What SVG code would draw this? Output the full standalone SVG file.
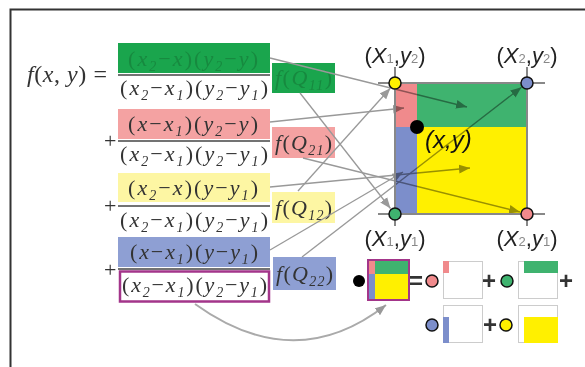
<svg xmlns="http://www.w3.org/2000/svg" width="585" height="367" viewBox="0 0 585 367">
<defs>
<marker id="ah" viewBox="0 0 10 8" refX="10" refY="4" markerWidth="11" markerHeight="9" markerUnits="userSpaceOnUse" orient="auto"><path d="M0,0 L10,4 L0,8 z" fill="#999"/></marker>
<style>
.eq{font-family:"Liberation Serif","Times New Roman",serif;font-size:22px;fill:#333}
.gt{fill:#17893f}
.i{font-style:italic}
.s{font-style:italic;font-size:14px}
.lbl{font-family:"Liberation Sans",Arial,sans-serif;font-size:22px;fill:#222;text-anchor:middle}
.sub{font-size:13px;fill:#888}
.arr{stroke:#999;stroke-width:1.3;fill:none;marker-end:url(#ah)}
.mult{mix-blend-mode:multiply}
.circ{stroke:#111;stroke-width:1.5}
.op{font-family:"Liberation Sans",Arial,sans-serif;font-size:24px;font-weight:bold;fill:#333;text-anchor:middle}
.fl{stroke:#444;stroke-width:1.5}
.grid{stroke:#888;stroke-width:2;fill:none}
.wb{fill:#fff;stroke:#ccc;stroke-width:1}
</style>
</defs>
<rect width="585" height="367" fill="#fff"/>
<path d="M10.5,367 V9.5 H585" fill="none" stroke="#333" stroke-width="2"/>

<g id="equation">
<text class="eq" x="27" y="82" font-size="24" textLength="80" lengthAdjust="spacing" style="font-size:24px"><tspan class="i">f</tspan>(<tspan class="i">x</tspan>, <tspan class="i">y</tspan>) =</text>
<text class="eq" x="104" y="148">+</text>
<text class="eq" x="104" y="213">+</text>
<text class="eq" x="104" y="277">+</text>
</g>

<g id="term1">
<rect x="118" y="43" width="152" height="30" fill="#1aa54d"/>
<text class="eq gt" x="128" y="66" textLength="130" lengthAdjust="spacing">(<tspan class="i">x</tspan><tspan class="s" dy="5">2</tspan><tspan dy="-5">−</tspan><tspan class="i">x</tspan>)(<tspan class="i">y</tspan><tspan class="s" dy="5">2</tspan><tspan dy="-5">−</tspan><tspan class="i">y</tspan>)</text>
<line class="fl" x1="118" y1="75" x2="270" y2="75"/>
<text class="eq" x="120" y="95" textLength="148" lengthAdjust="spacing">(<tspan class="i">x</tspan><tspan class="s" dy="5">2</tspan><tspan dy="-5">−</tspan><tspan class="i">x</tspan><tspan class="s" dy="5">1</tspan><tspan dy="-5">)(</tspan><tspan class="i">y</tspan><tspan class="s" dy="5">2</tspan><tspan dy="-5">−</tspan><tspan class="i">y</tspan><tspan class="s" dy="5">1</tspan><tspan dy="-5">)</tspan></text>
</g>

<g id="term2">
<rect x="118" y="109" width="152" height="30" fill="#f4a2a2"/>
<text class="eq" x="128" y="131" textLength="130" lengthAdjust="spacing">(<tspan class="i">x</tspan>−<tspan class="i">x</tspan><tspan class="s" dy="5">1</tspan><tspan dy="-5">)(</tspan><tspan class="i">y</tspan><tspan class="s" dy="5">2</tspan><tspan dy="-5">−</tspan><tspan class="i">y</tspan>)</text>
<line class="fl" x1="118" y1="141" x2="270" y2="141"/>
<text class="eq" x="120" y="161" textLength="148" lengthAdjust="spacing">(<tspan class="i">x</tspan><tspan class="s" dy="5">2</tspan><tspan dy="-5">−</tspan><tspan class="i">x</tspan><tspan class="s" dy="5">1</tspan><tspan dy="-5">)(</tspan><tspan class="i">y</tspan><tspan class="s" dy="5">2</tspan><tspan dy="-5">−</tspan><tspan class="i">y</tspan><tspan class="s" dy="5">1</tspan><tspan dy="-5">)</tspan></text>
</g>

<g id="term3">
<rect x="118" y="173" width="152" height="29" fill="#fdf6a3"/>
<text class="eq" x="128" y="195" textLength="130" lengthAdjust="spacing">(<tspan class="i">x</tspan><tspan class="s" dy="5">2</tspan><tspan dy="-5">−</tspan><tspan class="i">x</tspan>)(<tspan class="i">y</tspan>−<tspan class="i">y</tspan><tspan class="s" dy="5">1</tspan><tspan dy="-5">)</tspan></text>
<line class="fl" x1="118" y1="206" x2="270" y2="206"/>
<text class="eq" x="120" y="227" textLength="148" lengthAdjust="spacing">(<tspan class="i">x</tspan><tspan class="s" dy="5">2</tspan><tspan dy="-5">−</tspan><tspan class="i">x</tspan><tspan class="s" dy="5">1</tspan><tspan dy="-5">)(</tspan><tspan class="i">y</tspan><tspan class="s" dy="5">2</tspan><tspan dy="-5">−</tspan><tspan class="i">y</tspan><tspan class="s" dy="5">1</tspan><tspan dy="-5">)</tspan></text>
</g>

<g id="term4">
<rect x="118" y="237" width="152" height="30" fill="#8e9fd3"/>
<text class="eq" x="130" y="259" textLength="128" lengthAdjust="spacing">(<tspan class="i">x</tspan>−<tspan class="i">x</tspan><tspan class="s" dy="5">1</tspan><tspan dy="-5">)(</tspan><tspan class="i">y</tspan>−<tspan class="i">y</tspan><tspan class="s" dy="5">1</tspan><tspan dy="-5">)</tspan></text>
<line class="fl" x1="118" y1="269" x2="270" y2="269"/>
<rect x="120" y="271.5" width="149" height="30" fill="none" stroke="#a3358a" stroke-width="2.5"/>
<text class="eq" x="122" y="292" textLength="145" lengthAdjust="spacing">(<tspan class="i">x</tspan><tspan class="s" dy="5">2</tspan><tspan dy="-5">−</tspan><tspan class="i">x</tspan><tspan class="s" dy="5">1</tspan><tspan dy="-5">)(</tspan><tspan class="i">y</tspan><tspan class="s" dy="5">2</tspan><tspan dy="-5">−</tspan><tspan class="i">y</tspan><tspan class="s" dy="5">1</tspan><tspan dy="-5">)</tspan></text>
</g>

<g id="fQ11">
<rect x="272" y="63" width="63" height="30" fill="#1aa54d"/>
<text class="eq gt" x="275" y="85" textLength="57" lengthAdjust="spacing"><tspan class="i">f</tspan>(<tspan class="i">Q</tspan><tspan class="s" dy="5">11</tspan><tspan dy="-5">)</tspan></text>
</g>
<g id="fQ21">
<rect x="272" y="127" width="63" height="31" fill="#f4a2a2"/>
<text class="eq" x="275" y="150" textLength="57" lengthAdjust="spacing"><tspan class="i">f</tspan>(<tspan class="i">Q</tspan><tspan class="s" dy="5">21</tspan><tspan dy="-5">)</tspan></text>
</g>
<g id="fQ12">
<rect x="272" y="192" width="63" height="31" fill="#fdf6a3"/>
<text class="eq" x="275" y="215" textLength="57" lengthAdjust="spacing"><tspan class="i">f</tspan>(<tspan class="i">Q</tspan><tspan class="s" dy="5">12</tspan><tspan dy="-5">)</tspan></text>
</g>
<g id="fQ22">
<rect x="273" y="257" width="63" height="33" fill="#8e9fd3"/>
<text class="eq" x="276" y="281" textLength="57" lengthAdjust="spacing"><tspan class="i">f</tspan>(<tspan class="i">Q</tspan><tspan class="s" dy="5">22</tspan><tspan dy="-5">)</tspan></text>
</g>

<g id="grid">
<line class="grid" x1="378" y1="83" x2="545" y2="83"/>
<line class="grid" x1="378" y1="214" x2="545" y2="214"/>
<line class="grid" x1="395" y1="67" x2="395" y2="226"/>
<line class="grid" x1="527" y1="67" x2="527" y2="226"/>
</g>

<g id="connectors">
<line class="arr" x1="270" y1="58" x2="467" y2="107"/>
<line class="arr" x1="300" y1="93" x2="390.5" y2="208.5"/>
<line class="arr" x1="270" y1="122" x2="404" y2="108"/>
<line class="arr" x1="303" y1="158" x2="520" y2="212"/>
<line class="arr" x1="270" y1="187" x2="470" y2="168"/>
<line class="arr" x1="298" y1="191" x2="390.3" y2="88.2"/>
<line class="arr" x1="270" y1="250" x2="403" y2="172"/>
<line class="arr" x1="302" y1="257" x2="521.5" y2="87.3"/>
<path d="M195,304 Q295,376 386,305" fill="none" stroke="#aaa" stroke-width="2" marker-end="url(#ah)"/>
</g>

<g id="square">
<rect class="mult" x="395" y="83" width="22" height="44" fill="#f08a8c"/>
<rect class="mult" x="417" y="83" width="110" height="44" fill="#3fb36f"/>
<rect class="mult" x="395" y="127" width="22" height="87" fill="#7c8ecb"/>
<rect class="mult" x="417" y="127" width="110" height="87" fill="#fff000"/>
<rect x="395" y="83" width="132" height="131" class="grid"/>
<circle cx="417" cy="127" r="7" fill="#000"/>
<text x="425" y="148" font-family="Liberation Sans, Arial, sans-serif" font-size="24" font-style="italic" fill="#111">(x,y)</text>
</g>

<g id="Q12">
<circle class="circ" cx="395" cy="83" r="6" fill="#fff000"/>
<text class="lbl" x="395" y="63">(<tspan font-style="italic">X</tspan><tspan class="sub">1</tspan>,<tspan font-style="italic">y</tspan><tspan class="sub">2</tspan>)</text>
</g>
<g id="Q22">
<circle class="circ" cx="527" cy="83" r="6" fill="#7c8ecb"/>
<text class="lbl" x="527" y="63">(<tspan font-style="italic">X</tspan><tspan class="sub">2</tspan>,<tspan font-style="italic">y</tspan><tspan class="sub">2</tspan>)</text>
</g>
<g id="Q11">
<circle class="circ" cx="395" cy="214" r="6" fill="#3fb36f"/>
<text class="lbl" x="395" y="246">(<tspan font-style="italic">X</tspan><tspan class="sub">1</tspan>,<tspan font-style="italic">y</tspan><tspan class="sub">1</tspan>)</text>
</g>
<g id="Q21">
<circle class="circ" cx="527" cy="214" r="6" fill="#f08a8c"/>
<text class="lbl" x="527" y="246">(<tspan font-style="italic">X</tspan><tspan class="sub">2</tspan>,<tspan font-style="italic">y</tspan><tspan class="sub">1</tspan>)</text>
</g>

<g id="mini">
<circle cx="359" cy="281" r="6" fill="#000"/>
<rect x="369" y="261" width="6" height="13" fill="#f08a8c"/>
<rect x="375" y="261" width="33" height="13" fill="#3fb36f"/>
<rect x="369" y="274" width="6" height="25" fill="#7c8ecb"/>
<rect x="375" y="274" width="33" height="25" fill="#fff000"/>
<rect x="368" y="260" width="41" height="40" fill="none" stroke="#a3358a" stroke-width="2"/>
<text class="op" x="416" y="289">=</text>
<circle class="circ" cx="432" cy="281" r="6" fill="#f08a8c"/>
<rect class="wb" x="443.5" y="261.5" width="39" height="37"/>
<rect x="443" y="261" width="6" height="12" fill="#f08a8c"/>
<text class="op" x="489" y="289">+</text>
<circle class="circ" cx="507" cy="281" r="6" fill="#3fb36f"/>
<rect class="wb" x="518.5" y="261.5" width="39" height="37"/>
<rect x="524" y="261" width="34" height="12" fill="#3fb36f"/>
<text class="op" x="566" y="289">+</text>
<circle class="circ" cx="432" cy="325" r="6" fill="#7c8ecb"/>
<rect class="wb" x="443.5" y="305.5" width="39" height="37"/>
<rect x="443" y="317" width="6" height="26" fill="#7c8ecb"/>
<text class="op" x="490" y="333">+</text>
<circle class="circ" cx="506" cy="325" r="6" fill="#fff000"/>
<rect class="wb" x="518.5" y="305.5" width="39" height="37"/>
<rect x="524" y="317" width="34" height="26" fill="#fff000"/>
</g>
</svg>
